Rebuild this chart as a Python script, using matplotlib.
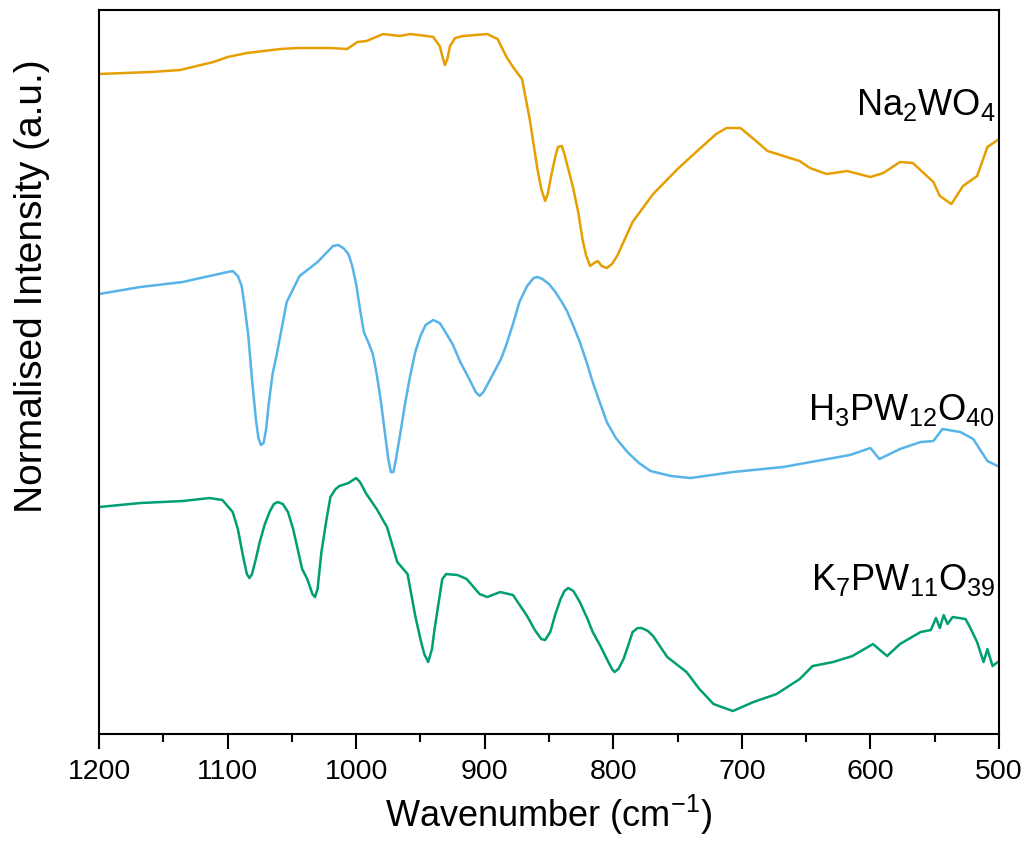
import numpy as np
import matplotlib
matplotlib.use("Agg")
from matplotlib import pyplot as plt
from matplotlib.ticker import MultipleLocator

plt.rcParams['font.family'] = ['Liberation Sans', 'DejaVu Sans']
plt.rcParams['mathtext.fontset'] = 'custom'
plt.rcParams['mathtext.rm'] = 'Liberation Sans'
plt.rcParams['mathtext.default'] = 'regular'

# Na2WO4 (wavenumber in cm-1, intensity in a.u. with offset)
na_wn = [1200, 1160, 1137, 1111, 1100, 1085, 1059, 1046, 1020, 1007, 999, 992,
         979, 966, 958, 945, 940, 935, 933, 931, 929, 927, 923, 917, 898, 890,
         883, 878, 871, 865, 862, 859, 856, 853, 851, 848, 845, 843, 840, 838,
         835, 831, 827, 824, 821, 818, 815, 812, 809, 805, 801, 797, 785, 769,
         750, 733, 720, 712, 701, 688, 680, 665, 655, 647, 634, 618, 600, 590,
         577, 567, 551, 546, 537, 528, 517, 509, 501, 500]
na_int = [660, 662, 664, 672, 677, 681, 685, 686, 686, 685, 692, 693,
          700, 698, 700, 698, 697, 688, 678, 669, 675, 688, 696, 698, 700, 695,
          677, 667, 655, 615, 590, 565, 545, 533, 540, 560, 578, 587, 588, 580,
          565, 545, 520, 495, 478, 468, 471, 473, 468, 466, 470, 478, 512, 540,
          565, 585, 600, 606, 606, 592, 583, 577, 573, 566, 560, 563, 557, 561,
          572, 571, 552, 538, 530, 548, 558, 587, 594, 595]

# H3PW12O40
hpw_wn = [1200, 1168, 1135, 1100, 1096, 1092, 1089, 1087, 1084, 1081, 1078, 1076,
          1074, 1072, 1070, 1068, 1065, 1062, 1058, 1054, 1044, 1036, 1030, 1024,
          1018, 1014, 1010, 1006, 1003, 1000, 997, 994, 990, 987, 984, 981, 978,
          975, 973, 971, 969, 966, 962, 958, 954, 950, 946, 940, 935, 932, 925,
          919, 912, 907, 904, 901, 896, 891, 887, 883, 878, 873, 867, 862, 859,
          855, 850, 845, 840, 836, 831, 826, 821, 816, 810, 805, 798, 789, 780,
          771, 755, 740, 707, 668, 642, 616, 600, 593, 577, 561, 551, 544, 530,
          520, 509, 501, 500]
hpw_int = [440, 447, 452, 462, 463, 458, 448, 430, 400, 355, 315, 296,
           289, 291, 305, 330, 360, 378, 405, 432, 458, 466, 472, 480,
           488, 489, 486, 480, 468, 450, 425, 402, 390, 380, 360, 335, 305,
           275, 262, 262, 275, 298, 330, 358, 382, 398, 409, 414, 411, 405, 390,
           372, 355, 342, 338, 342, 354, 366, 376, 390, 410, 432, 448, 456, 457,
           455, 450, 442, 432, 423, 408, 392, 373, 352, 330, 312, 296, 282, 271,
           263, 258, 256, 262, 267, 273, 279, 286, 275, 285, 292, 293, 305, 302,
           295, 273, 268, 268]

# K7PW11O39
kpw_wn = [1200, 1168, 1135, 1114, 1104, 1096, 1092, 1088, 1085, 1083, 1081, 1078,
          1075, 1071, 1067, 1064, 1061, 1057, 1053, 1049, 1046, 1042, 1038, 1034,
          1032, 1030, 1027, 1023, 1020, 1016, 1013, 1006, 1000, 997, 992, 984,
          976, 968, 960, 954, 950, 947, 944, 941, 939, 936, 933, 930, 921, 914,
          904, 898, 888, 878, 867, 861, 856, 853, 849, 845, 841, 838, 835, 831,
          826, 820, 816, 810, 805, 801, 799, 796, 792, 788, 785, 781, 778, 773,
          769, 758, 743, 733, 722, 707, 691, 673, 655, 645, 629, 614, 598, 587,
          577, 561, 553, 549, 546, 543, 540, 536, 526, 523, 517, 512, 509, 505,
          501, 500]
kpw_int = [227, 231, 233, 236, 234, 222, 205, 178, 160, 156, 160, 175,
           192, 210, 223, 230, 232, 230, 222, 205, 188, 165, 155, 140,
           137, 145, 182, 215, 237, 245, 248, 251, 256, 252, 240, 225,
           207, 172, 160, 118, 95, 80, 72, 85, 105, 130, 155, 160, 159, 155,
           140, 137, 142, 139, 118, 104, 95, 94, 102, 120, 135, 143, 146, 143,
           132, 115, 102, 88, 75, 65, 62, 65, 75, 90, 102, 106, 106, 103,
           98, 77, 62, 45, 30, 23, 32, 40, 55, 68, 72, 78, 90, 78,
           90, 102, 104, 116, 106, 119, 110, 117, 115, 108, 92, 72, 85, 68,
           72, 72]

series = [
    (na_wn, na_int, '#E69F00', 'Na$_2$WO$_4$', 630),
    (hpw_wn, hpw_int, '#56B4E9', 'H$_3$PW$_{12}$O$_{40}$', 325),
    (kpw_wn, kpw_int, '#009E73', 'K$_7$PW$_{11}$O$_{39}$', 155),
]

fig = plt.figure(figsize=(10.27, 8.54), dpi=100)
ax = fig.add_axes([0.0964, 0.1393, 0.8763, 0.8478])

for wn, inten, color, label, label_y in series:
    ax.plot(wn, inten, color=color, lw=1.8, solid_joinstyle='round')
    ax.text(503, label_y, label, ha='right', va='center', fontsize=26)

ax.set_xlim(1200, 500)
ax.set_ylim(0, 724)
ax.xaxis.set_major_locator(MultipleLocator(100))
ax.xaxis.set_minor_locator(MultipleLocator(50))
ax.set_yticks([])
ax.tick_params(axis='x', which='major', direction='out', length=11, width=1.5,
               labelsize=20.5, pad=6)
ax.tick_params(axis='x', which='minor', direction='out', length=6, width=1.5)
for sp in ax.spines.values():
    sp.set_linewidth(1.5)

ax.set_xlabel('Wavenumber (cm$^{-1}$)', fontsize=26, labelpad=6)
ax.set_ylabel('Normalised Intensity (a.u.)', fontsize=28)
ax.yaxis.set_label_coords(-0.054, 0.62)

fig.savefig('out.png', dpi=100)
